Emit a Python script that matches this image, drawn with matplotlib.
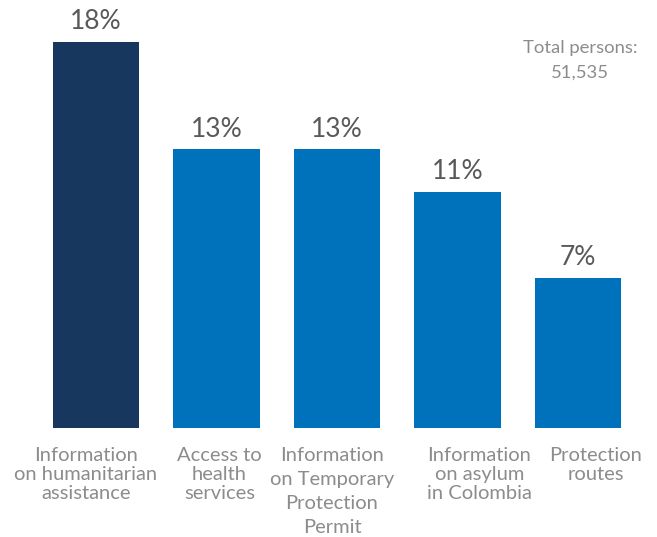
from matplotlib import pyplot as plt
import numpy as np

categories = ['Information\non humanitarian\nassistance', 'Access to\nhealth\nservices',
              'Information\non Temporary\nProtection\nPermit', 'Information\non asylum\nin Colombia',
              'Protection\nroutes']
values = [18, 13, 13, 11, 7]
value_labels = ['18%', '13%', '13%', '11%', '7%']
total_text = 'Total persons:\n51,535'

bar_colors = ['#18375F', '#0072BC', '#0072BC', '#0072BC', '#0072BC']
label_shift = [-10, 3, -5, 22, 18]  # px nudges of the category labels
label_spacing = [1.17, 1.17, 1.5, 1.17, 1.17]

plt.rcParams['font.family'] = ['Lato', 'DejaVu Sans']

fig = plt.figure(figsize=(6.57, 5.37), dpi=100)
ax = fig.add_axes([0, 0.203, 1, 0.797])
x = np.arange(len(values))
ax.bar(x, values, width=0.72, color=bar_colors)
ax.set_xlim(-0.797, 4.656)
ax.set_ylim(0, 19.96)
ax.axis('off')

# value labels above bars
for xi, v, lab in zip(x, values, value_labels):
    ax.annotate(lab, (xi, v), xytext=(0, 5.5), textcoords='offset points',
                ha='center', va='bottom', fontsize=19, color='#595959')

# category labels under the baseline
for xi, cat, dx, ls in zip(x, categories, label_shift, label_spacing):
    ax.annotate(cat, (xi, 0), xytext=(dx * 0.72, -13.5), textcoords='offset points',
                ha='center', va='top', multialignment='center', linespacing=ls,
                fontsize=14.5, color='#8C8C8C', annotation_clip=False)

fig.text(0.883, 0.925, total_text, ha='center', va='top', fontsize=13.3,
         color='#8C8C8C', linespacing=1.65)

fig.savefig('out.png', dpi=100)
